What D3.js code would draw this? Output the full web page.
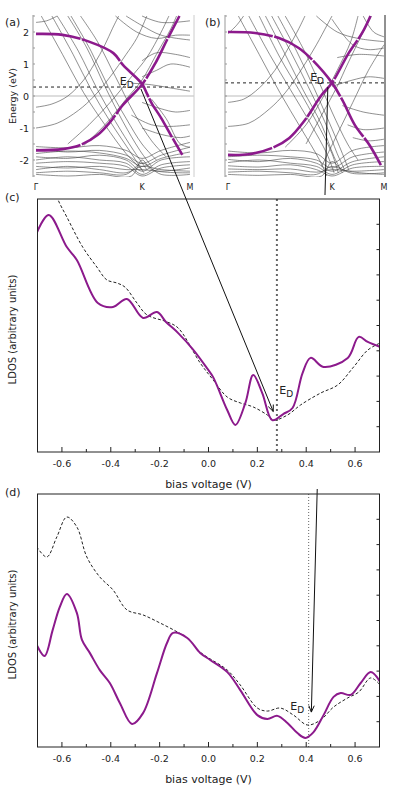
<!DOCTYPE html>
<html lang="en">
<head>
<meta charset="UTF-8">
<script src="https://d3js.org/d3.v7.min.js"></script>
<title>Graphene bands and LDOS</title>
<style>
  body { margin: 0; background: #fff; }
  text { font-family: "DejaVu Sans", sans-serif; fill: #222; }
</style>
</head>
<body>
<div id="fig"></div>
<script>
// ---- data ----
const kTickLabels = ["Γ", "K", "M"];
const kTickVals = [0, 1, 1.5];
const eTickVals = [2, 1, 0, -1, -2];
const biasTickVals = [-0.6, -0.4, -0.2, 0.0, 0.2, 0.4, 0.6];
const diracA = 0.28;   // E_D in (a) and (c)
const diracB = 0.41;   // E_D in (b) and (d)

// graphene pi bands, [k, E(eV)]
const purpleA1 = [[0,1.94],[0.25,1.91],[0.5,1.70],[0.73,1.34],[0.82,0.97],[1.0,0.38],[1.05,0.08],[1.1,-0.22],[1.2,-0.69],[1.3,-1.22],[1.42,-1.84]];
const purpleA2 = [[0,-1.70],[0.25,-1.66],[0.42,-1.53],[0.58,-1.22],[0.70,-0.81],[0.82,-0.28],[1.0,0.36],[1.14,1.03],[1.26,1.75],[1.39,2.5]];
const purpleB1 = [[0,2.0],[0.26,1.97],[0.49,1.81],[0.68,1.5],[0.81,1.13],[1.0,0.41],[1.1,-0.13],[1.22,-0.91],[1.36,-1.53],[1.47,-2.16]];
const purpleB2 = [[0,-1.84],[0.2,-1.82],[0.42,-1.63],[0.59,-1.31],[0.74,-0.75],[0.9,0.03],[1.0,0.41],[1.16,1.34],[1.29,1.97],[1.37,2.5]];

// other bands (substrate), [k, E(eV)]
const bandsA = [
  [[0.05,2.5],[0.25,1.3],[0.45,0.1],[0.65,-0.9],[0.85,-1.8],[1.0,-2.3]],
  [[0.15,2.5],[0.35,1.3],[0.52,0.2],[0.7,-0.8],[0.9,-1.8],[1.02,-2.4]],
  [[0.2,2.5],[0.4,1.4],[0.58,0.2],[0.75,-0.8],[0.92,-1.7],[1.05,-2.3]],
  [[0.3,2.5],[0.48,1.5],[0.65,0.3],[0.82,-0.8],[0.98,-1.7],[1.1,-2.2]],
  [[0.33,2.5],[0.52,1.4],[0.68,0.3],[0.85,-0.7],[1.0,-1.5],[1.15,-2.0]],
  [[0.42,2.5],[0.58,1.7],[0.75,0.6],[0.92,-0.5],[1.1,-1.4],[1.25,-1.9]],
  [[0.3,-1.5],[0.5,-0.9],[0.7,-0.2],[0.9,0.6],[1.05,1.2],[1.2,2.0],[1.28,2.5]],
  [[0.45,-1.55],[0.65,-0.9],[0.85,-0.1],[1.0,0.5],[1.15,1.3],[1.3,2.1],[1.36,2.5]],
  [[0,-0.35],[0.15,-0.25],[0.3,0.0],[0.45,0.5],[0.55,1.0],[0.65,1.6],[0.72,2.1],[0.78,2.5]],
  [[0,-1.0],[0.2,-0.85],[0.4,-0.45],[0.55,0.0],[0.7,0.6],[0.85,1.3],[0.95,1.8],[1.05,2.5]],
  [[0,2.3],[0.1,2.35],[0.2,2.5]],
  [[0.85,2.5],[1.0,2.2],[1.2,1.9],[1.5,1.75]],
  [[0.75,2.5],[0.95,2.0],[1.15,1.8],[1.35,1.9],[1.5,1.9]],
  [[1.0,2.5],[1.2,2.3],[1.5,2.35]],
  [[1.0,1.1],[1.15,1.35],[1.35,1.3],[1.5,1.2]],
  [[0.9,0.4],[1.1,0.35],[1.3,0.25],[1.5,0.15]],
  [[1.0,0.6],[1.15,0.8],[1.3,1.0],[1.5,0.9]],
  [[1.0,-0.2],[1.2,-0.4],[1.35,-0.5],[1.5,-0.45]],
  [[0.9,-0.6],[1.1,-0.9],[1.3,-0.95],[1.5,-0.9]],
  [[1.0,-1.0],[1.2,-1.2],[1.4,-1.3],[1.5,-1.25]],
  [[1.1,-0.1],[1.25,-0.7],[1.4,-1.5],[1.5,-1.6]],
  [[0,-1.58],[0.3,-1.62],[0.6,-1.55],[0.85,-1.7],[1.0,-1.95],[1.2,-1.7],[1.5,-1.45]],
  [[0,-1.66],[0.3,-1.75],[0.6,-1.7],[0.85,-1.85],[1.0,-2.1],[1.2,-1.85],[1.5,-1.6]],
  [[0,-1.8],[0.3,-1.72],[0.6,-1.78],[0.85,-1.95],[1.0,-2.2],[1.2,-1.95],[1.5,-1.75]],
  [[0,-1.9],[0.3,-1.95],[0.6,-1.85],[0.85,-2.0],[1.0,-2.35],[1.2,-2.0],[1.5,-1.9]],
  [[0,-2.0],[0.3,-1.9],[0.6,-2.0],[0.85,-2.1],[1.0,-2.45],[1.2,-2.15],[1.5,-2.05]],
  [[0,-2.1],[0.3,-2.05],[0.6,-2.1],[0.85,-2.2],[1.0,-2.5],[1.2,-2.25],[1.5,-2.15]],
  [[0,-2.2],[0.3,-2.25],[0.6,-2.2],[0.85,-2.3],[1.0,-2.3],[1.2,-2.35],[1.5,-2.25]],
  [[0,-2.3],[0.3,-2.2],[0.6,-2.3],[0.85,-2.4],[1.0,-2.2],[1.2,-2.3],[1.5,-2.35]],
  [[0,-2.4],[0.3,-2.35],[0.6,-2.4],[0.85,-2.45],[1.0,-2.1],[1.2,-2.45],[1.5,-2.45]],
  [[0,-2.45],[0.3,-2.5],[0.6,-2.45],[0.9,-2.5],[1.0,-2.0],[1.1,-2.3],[1.5,-2.4]]
];
const bandsB = [
  [[0.1,2.5],[0.3,1.3],[0.5,0.1],[0.7,-1.0],[0.88,-2.0],[0.95,-2.5]],
  [[0.2,2.5],[0.4,1.3],[0.6,0.2],[0.8,-0.9],[0.95,-1.8],[1.02,-2.4]],
  [[0.3,2.5],[0.5,1.2],[0.68,0.2],[0.85,-0.8],[1.0,-1.8],[1.06,-2.4]],
  [[0.36,2.5],[0.55,1.3],[0.72,0.2],[0.9,-0.9],[1.02,-1.9],[1.1,-2.4]],
  [[0.42,2.5],[0.6,1.4],[0.77,0.3],[0.93,-0.8],[1.05,-1.8],[1.12,-2.3]],
  [[0.48,2.5],[0.66,1.4],[0.82,0.3],[0.97,-0.8],[1.1,-1.8],[1.16,-2.3]],
  [[0.55,2.5],[0.72,1.5],[0.88,0.4],[1.0,-0.5],[1.15,-1.5],[1.25,-2.0]],
  [[0.55,-1.6],[0.75,-0.9],[0.92,0.0],[1.05,0.8],[1.18,1.7],[1.25,2.5]],
  [[0.75,-1.5],[0.9,-0.6],[1.05,0.3],[1.15,1.0],[1.3,2.0],[1.38,2.5]],
  [[0.9,-2.2],[1.05,-1.2],[1.2,-0.2],[1.35,0.8],[1.5,1.6]],
  [[0,-0.2],[0.15,-0.1],[0.3,0.25],[0.45,0.8],[0.58,1.5],[0.68,2.1],[0.74,2.5]],
  [[0,-0.95],[0.2,-0.85],[0.4,-0.4],[0.55,0.1],[0.7,0.8],[0.85,1.6],[0.95,2.2],[1.0,2.5]],
  [[0,1.95],[0.08,2.2],[0.15,2.5]],
  [[0.85,2.5],[1.05,2.0],[1.25,1.8],[1.5,1.7]],
  [[1.3,2.5],[1.4,2.0],[1.5,1.85]],
  [[1.0,2.4],[1.2,1.6],[1.35,1.45],[1.5,1.5]],
  [[1.05,1.2],[1.25,1.3],[1.5,1.25]],
  [[1.0,0.3],[1.2,0.5],[1.35,0.6],[1.5,0.55]],
  [[1.1,-0.3],[1.3,-0.5],[1.5,-0.6]],
  [[1.15,-0.9],[1.3,-1.05],[1.5,-1.0]],
  [[1.2,-1.3],[1.35,-1.4],[1.5,-1.35]],
  [[0,-1.72],[0.3,-1.78],[0.6,-1.7],[0.85,-1.8],[1.0,-2.1],[1.2,-1.7],[1.5,-1.55]],
  [[0,-1.9],[0.3,-1.85],[0.6,-1.9],[0.85,-2.0],[1.0,-2.25],[1.2,-1.9],[1.5,-1.75]],
  [[0,-1.98],[0.3,-2.05],[0.6,-1.95],[0.85,-2.1],[1.0,-2.35],[1.2,-2.05],[1.5,-1.9]],
  [[0,-2.08],[0.3,-2.0],[0.6,-2.1],[0.85,-2.2],[1.0,-2.45],[1.2,-2.15],[1.5,-2.05]],
  [[0,-2.18],[0.3,-2.22],[0.6,-2.15],[0.85,-2.3],[1.0,-2.5],[1.2,-2.25],[1.5,-2.2]],
  [[0,-2.28],[0.3,-2.3],[0.6,-2.28],[0.85,-2.38],[1.0,-2.3],[1.2,-2.35],[1.5,-2.3]],
  [[0,-2.38],[0.3,-2.35],[0.6,-2.4],[0.85,-2.45],[1.0,-2.2],[1.2,-2.42],[1.5,-2.4]],
  [[0,-2.45],[0.3,-2.48],[0.6,-2.45],[0.9,-2.5],[1.0,-2.05],[1.1,-2.3],[1.5,-2.45]]
];

// LDOS curves, [bias (V), LDOS (arb.)]
const cPurple = [[-0.703,8.66],[-0.654,9.37],[-0.58,8.10],[-0.539,7.59],[-0.453,5.89],[-0.391,5.73],[-0.334,6.05],[-0.268,5.30],[-0.211,5.53],[-0.174,5.14],[-0.124,4.70],[-0.063,4.05],[-0.005,3.3],[0.019,2.96],[0.077,1.65],[0.110,1.07],[0.151,1.94],[0.183,3.04],[0.220,2.33],[0.261,1.26],[0.306,1.50],[0.344,1.74],[0.385,3.12],[0.418,3.72],[0.471,3.36],[0.570,3.72],[0.615,4.55],[0.652,4.35],[0.703,4.15]];
const cDashed = [[-0.63,10.5],[-0.617,10.0],[-0.58,9.29],[-0.515,8.10],[-0.457,7.31],[-0.416,6.80],[-0.375,6.68],[-0.342,6.52],[-0.293,5.89],[-0.252,5.42],[-0.169,5.14],[-0.124,4.90],[-0.034,3.52],[0.019,2.85],[0.077,2.17],[0.130,1.94],[0.183,1.78],[0.241,1.46],[0.266,1.26],[0.323,1.46],[0.377,1.86],[0.459,2.33],[0.529,2.65],[0.594,3.36],[0.652,4.03],[0.703,4.31]];
const dPurple = [[-0.703,4.03],[-0.671,3.60],[-0.638,4.62],[-0.609,5.53],[-0.580,6.05],[-0.539,5.30],[-0.518,4.23],[-0.486,3.72],[-0.445,3.04],[-0.404,2.53],[-0.363,1.74],[-0.313,0.91],[-0.268,1.34],[-0.211,2.92],[-0.170,4.11],[-0.145,4.51],[-0.087,4.31],[-0.034,3.72],[0.007,3.44],[0.077,2.96],[0.130,2.25],[0.200,1.26],[0.241,1.11],[0.282,1.23],[0.323,0.95],[0.364,0.55],[0.397,0.36],[0.430,0.59],[0.471,1.26],[0.512,1.98],[0.541,2.13],[0.582,2.06],[0.623,2.53],[0.664,2.96],[0.703,2.57]];
const dDashed = [[-0.703,7.91],[-0.662,7.51],[-0.621,8.30],[-0.580,9.09],[-0.539,8.70],[-0.498,7.51],[-0.445,6.72],[-0.391,6.21],[-0.334,5.42],[-0.268,5.22],[-0.198,4.90],[-0.128,4.55],[-0.087,4.31],[-0.034,3.75],[0.077,3.04],[0.130,2.45],[0.200,1.54],[0.241,1.42],[0.294,1.54],[0.348,1.26],[0.405,0.87],[0.459,1.07],[0.512,1.58],[0.570,1.94],[0.615,2.17],[0.664,2.73],[0.703,2.45]];

// ---- drawing ----
const W = 395, H = 792;
const PURPLE = "#8c1a8c";
const svg = d3.select("#fig").append("svg").attr("width", W).attr("height", H);
const defs = svg.append("defs");

const eScale = d3.scaleLinear().domain([-2.5, 2.5]).range([176, 16]);

function bandPanel(id, kRange, frame, purple1, purple2, bands, dirac, letter, labelX, showEticks) {
  const kx = d3.scaleLinear().domain(kTickVals).range(kRange);
  const g = svg.append("g");
  defs.append("clipPath").attr("id", id).append("rect")
    .attr("x", frame[0]).attr("y", 15).attr("width", frame[1] - frame[0]).attr("height", 162);
  const inner = g.append("g").attr("clip-path", `url(#${id})`);
  const line = d3.line().x(d => kx(d[0])).y(d => eScale(d[1])).curve(d3.curveCatmullRom);

  // zero line and E_D line
  inner.append("line").attr("x1", frame[0]).attr("x2", frame[1])
    .attr("y1", eScale(0)).attr("y2", eScale(0)).attr("stroke", "#aaa").attr("stroke-width", 0.8);
  inner.append("line").attr("x1", frame[0]).attr("x2", frame[1])
    .attr("y1", eScale(dirac)).attr("y2", eScale(dirac))
    .attr("stroke", "#222").attr("stroke-width", 1).attr("stroke-dasharray", "3,3");

  inner.selectAll(".band").data(bands).enter().append("path")
    .attr("class", "band").attr("d", line)
    .attr("fill", "none").attr("stroke", "#444").attr("stroke-width", 0.6);
  inner.selectAll(".pi").data([purple1, purple2]).enter().append("path")
    .attr("class", "pi").attr("d", line)
    .attr("fill", "none").attr("stroke", PURPLE).attr("stroke-width", 2.6)
    .attr("stroke-dasharray", "45,1.5");

  // left axis with small ticks
  g.append("line").attr("x1", frame[0]).attr("x2", frame[0]).attr("y1", 15).attr("y2", 177)
    .attr("stroke", "#999").attr("stroke-width", 1);
  g.selectAll(".et").data(d3.range(-2.5, 2.51, 0.5)).enter().append("line")
    .attr("x1", frame[0]).attr("x2", frame[0] + 2)
    .attr("y1", d => eScale(d)).attr("y2", d => eScale(d)).attr("stroke", "#999");
  g.append("line").attr("x1", frame[1]).attr("x2", frame[1]).attr("y1", 15).attr("y2", 177)
    .attr("stroke", id === "clipB" ? "#222" : "#ccc").attr("stroke-width", 1);

  if (showEticks) {
    g.selectAll(".el").data(eTickVals).enter().append("text")
      .attr("x", frame[0] - 4).attr("y", d => eScale(d) + 3.5)
      .attr("text-anchor", "end").attr("font-size", 9.5).text(d => d);
    g.append("text").attr("transform", `translate(16,${eScale(0)}) rotate(-90)`)
      .attr("text-anchor", "middle").attr("font-size", 9.5).text("Energy (eV)");
  }
  g.selectAll(".kl").data(kTickVals).enter().append("text")
    .attr("x", d => kx(d)).attr("y", 190).attr("text-anchor", "middle")
    .attr("font-size", 8).text((d, i) => kTickLabels[i]);
  g.append("text").attr("x", labelX).attr("y", 26).attr("font-size", 11).text(letter);

  const ed = g.append("text").attr("x", kx(0.79)).attr("y", eScale(dirac) - 2).attr("font-size", 11);
  ed.append("tspan").text("E");
  ed.append("tspan").attr("font-size", 9).attr("dy", 3).text("D");
  return kx;
}

const kxA = bandPanel("clipA", [36, 142, 190], [33, 194], purpleA1, purpleA2, bandsA, diracA, "(a)", 5, true);
const kxB = bandPanel("clipB", [228, 332, 384], [225, 385], purpleB1, purpleB2, bandsB, diracB, "(b)", 205, false);

// LDOS panels share x scale
const xBias = d3.scaleLinear().domain([-0.7, 0.7]).range([37.5, 379.5]);

function arrow(g, x1, y1, x2, y2) {
  g.append("line").attr("x1", x1).attr("y1", y1).attr("x2", x2).attr("y2", y2)
    .attr("stroke", "#111").attr("stroke-width", 1);
  const a = Math.atan2(y2 - y1, x2 - x1), L = 7, s = 0.4;
  g.append("path")
    .attr("d", `M${x2 - L * Math.cos(a - s)},${y2 - L * Math.sin(a - s)}L${x2},${y2}L${x2 - L * Math.cos(a + s)},${y2 - L * Math.sin(a + s)}`)
    .attr("fill", "none").attr("stroke", "#111").attr("stroke-width", 1);
}

function ldosPanel(top, bottom, purple, dashed, dirac, letter, dotted) {
  const y = d3.scaleLinear().domain([0, 10]).range([bottom, top]);
  const g = svg.append("g");
  const id = "clip" + letter.replace(/[()]/g, "");
  defs.append("clipPath").attr("id", id).append("rect")
    .attr("x", xBias.range()[0]).attr("y", top)
    .attr("width", xBias.range()[1] - xBias.range()[0]).attr("height", bottom - top);
  const inner = g.append("g").attr("clip-path", `url(#${id})`);
  const line = d3.line().x(d => xBias(d[0])).y(d => y(d[1])).curve(d3.curveCatmullRom);

  inner.append("line").attr("x1", xBias(dirac)).attr("x2", xBias(dirac))
    .attr("y1", top).attr("y2", bottom)
    .attr("stroke", dotted.color).attr("stroke-width", dotted.width).attr("stroke-dasharray", dotted.dash);
  inner.append("path").datum(dashed).attr("d", line).attr("fill", "none")
    .attr("stroke", "#222").attr("stroke-width", 1).attr("stroke-dasharray", "3,2");
  inner.append("path").datum(purple).attr("d", line).attr("fill", "none")
    .attr("stroke", PURPLE).attr("stroke-width", 2);

  g.append("rect").attr("x", xBias.range()[0]).attr("y", top)
    .attr("width", xBias.range()[1] - xBias.range()[0]).attr("height", bottom - top)
    .attr("fill", "none").attr("stroke", "#222").attr("stroke-width", 1);

  // inward ticks
  g.selectAll(".mt").data(d3.range(-0.7, 0.71, 0.1)).enter().append("line")
    .attr("x1", d => xBias(d)).attr("x2", d => xBias(d))
    .attr("y1", bottom).attr("y2", (d, i) => bottom - (i % 2 === 1 ? 5 : 3))
    .attr("stroke", "#222");
  g.selectAll(".rt").data(d3.range(1, 10)).enter().append("line")
    .attr("x1", xBias.range()[1]).attr("x2", xBias.range()[1] - 3)
    .attr("y1", d => y(d)).attr("y2", d => y(d)).attr("stroke", "#222");

  g.selectAll(".bl").data(biasTickVals).enter().append("text")
    .attr("x", d => xBias(d)).attr("y", bottom + 15).attr("text-anchor", "middle")
    .attr("font-size", 9.5).text(d => d.toFixed(1));
  g.append("text").attr("x", xBias(0)).attr("y", bottom + 36).attr("text-anchor", "middle")
    .attr("font-size", 11).text("bias voltage (V)");
  g.append("text").attr("transform", `translate(16,${(top + bottom) / 2 + 4}) rotate(-90)`)
    .attr("text-anchor", "middle").attr("font-size", 10).text("LDOS (arbitrary units)");
  g.append("text").attr("x", 5).attr("y", top + 2).attr("font-size", 11).text(letter);
  return y;
}

// arrow from (b) to (d) goes behind panel (c)
const yD = d3.scaleLinear().domain([0, 10]).range([747, 494]);
arrow(svg, kxB(0.96), eScale(diracB - 0.13), xBias(0.421), yD(1.38));

// white backdrop for panel (c)
svg.append("rect").attr("x", 0).attr("y", 195).attr("width", W).attr("height", 294).attr("fill", "#fff");

const yC = ldosPanel(199, 452, cPurple, cDashed, diracA, "(c)",
  { color: "#666", width: 2, dash: "2,3" });
const cEd = svg.append("text").attr("x", xBias(0.29)).attr("y", yC(2.3)).attr("font-size", 11);
cEd.append("tspan").text("E");
cEd.append("tspan").attr("font-size", 9).attr("dy", 3).text("D");

ldosPanel(494, 747, dPurple, dDashed, diracB, "(d)",
  { color: "#666", width: 1, dash: "1,2" });
const dEd = svg.append("text").attr("x", xBias(0.335)).attr("y", yD(1.45)).attr("font-size", 11);
dEd.append("tspan").text("E");
dEd.append("tspan").attr("font-size", 9).attr("dy", 3).text("D");

// arrow from (a) crossing to (c) minimum
arrow(svg, kxA(0.99), eScale(0.22), xBias(0.265), yC(1.6));
</script>
</body>
</html>
